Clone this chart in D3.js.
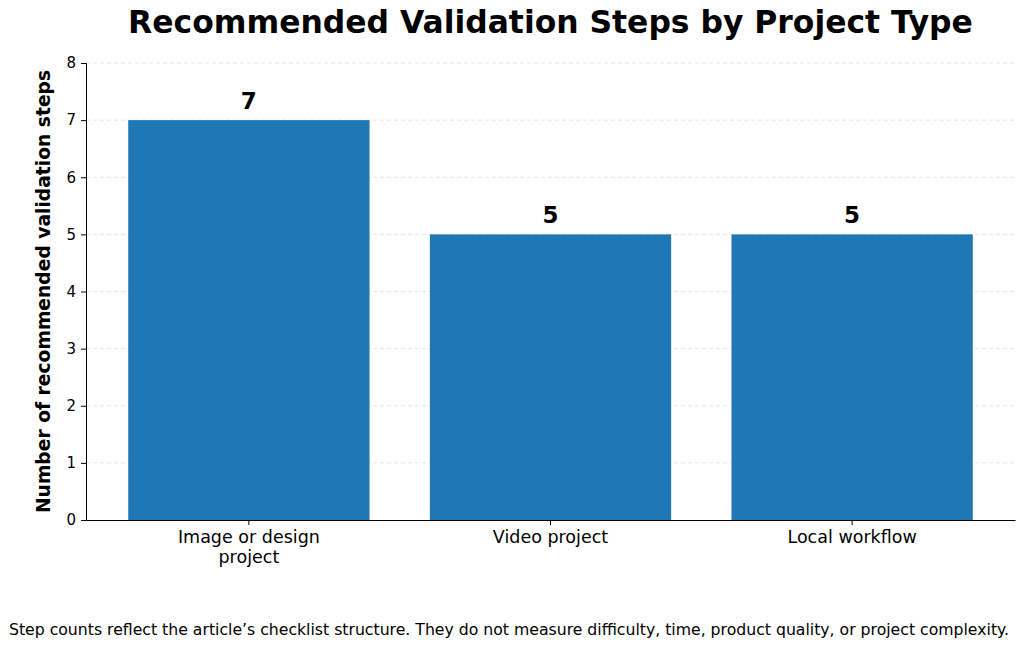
<!DOCTYPE html>
<html>
<head>
<meta charset="utf-8">
<script src="https://cdn.jsdelivr.net/npm/d3@7"></script>
<style>
  body { margin: 0; background: #fff; }
  svg { display: block; font-family: "DejaVu Sans", sans-serif; }
  svg text { font-family: "DejaVu Sans", sans-serif; }
</style>
</head>
<body>
<div id="chart"></div>
<script>
/* --- Data --- */
const categories = ["Image or design\nproject", "Video project", "Local workflow"];
const stepCounts = [7, 5, 5];
const yTicks = [0, 1, 2, 3, 4, 5, 6, 7, 8];

const titleText = "Recommended Validation Steps by Project Type";
const yLabelText = "Number of recommended validation steps";
const footText = "Step counts reflect the article\u2019s checklist structure. They do not measure difficulty, time, product quality, or project complexity.";

const width = 1024, height = 647;
const margin = { top: 63, right: 9, bottom: 127, left: 86 };
const innerW = width - margin.left - margin.right;
const innerH = height - margin.top - margin.bottom;
const barColor = "#1f77b4";

const svg = d3.select("#chart").append("svg")
    .attr("width", width)
    .attr("height", height);

const g = svg.append("g")
    .attr("transform", `translate(${margin.left},${margin.top})`);

// Scales
const x = d3.scaleBand()
    .domain(categories)
    .range([0, innerW])
    .paddingInner(0.2)
    .paddingOuter(0.14);

const y = d3.scaleLinear().domain([0, 8]).range([innerH, 0]);

// Grid lines (behind bars)
g.append("g")
    .selectAll("line")
    .data(yTicks.filter(d => d > 0))
    .join("line")
    .attr("x1", 0)
    .attr("x2", innerW)
    .attr("y1", d => y(d))
    .attr("y2", d => y(d))
    .attr("stroke", "#dddddd")
    .attr("stroke-width", 0.8)
    .attr("stroke-dasharray", "4,3");

// Bars
g.selectAll("rect.bar")
    .data(stepCounts)
    .join("rect")
    .attr("class", "bar")
    .attr("x", (d, i) => x(categories[i]))
    .attr("y", d => y(d))
    .attr("width", x.bandwidth())
    .attr("height", d => innerH - y(d))
    .attr("fill", barColor);

// Value labels
g.selectAll("text.value")
    .data(stepCounts)
    .join("text")
    .attr("class", "value")
    .attr("x", (d, i) => x(categories[i]) + x.bandwidth() / 2)
    .attr("y", d => y(d) - 11)
    .attr("text-anchor", "middle")
    .style("font-size", "23px")
    .style("font-weight", "bold")
    .text(d => d);

// Y axis
const yAxis = g.append("g")
    .call(d3.axisLeft(y).tickValues(yTicks).tickSize(5).tickPadding(5));
yAxis.attr("font-family", "DejaVu Sans").attr("font-size", 15);
yAxis.select(".domain").attr("stroke", "#000").attr("stroke-width", 1);
yAxis.selectAll("line").attr("stroke", "#000");
yAxis.selectAll("text").style("font-size", "15px").attr("fill", "#000");

// X axis
const xAxis = g.append("g")
    .attr("transform", `translate(0,${innerH})`)
    .call(d3.axisBottom(x).tickSize(5).tickSizeOuter(0).tickFormat(""));
xAxis.attr("font-family", "DejaVu Sans");
xAxis.select(".domain").attr("stroke", "#000").attr("stroke-width", 1);
xAxis.selectAll("line").attr("stroke", "#000");

// Category labels (multi-line)
xAxis.selectAll(".tick").each(function (d) {
    const lines = d.split("\n");
    const t = d3.select(this).append("text")
        .attr("y", 23)
        .attr("text-anchor", "middle")
        .attr("fill", "#000")
        .style("font-size", "17.5px");
    lines.forEach((ln, i) => {
        t.append("tspan").attr("x", 0).attr("dy", i === 0 ? 0 : "1.15em").text(ln);
    });
});

// Title
svg.append("text")
    .attr("x", margin.left + innerW / 2)
    .attr("y", 33)
    .attr("text-anchor", "middle")
    .style("font-size", "31.4px")
    .style("font-weight", "bold")
    .text(titleText);

// Y label
svg.append("text")
    .attr("transform", `translate(50,${margin.top + innerH / 2}) rotate(-90)`)
    .attr("text-anchor", "middle")
    .style("font-size", "18.7px")
    .style("font-weight", "bold")
    .text(yLabelText);

// Footnote
svg.append("text")
    .attr("x", width / 2 - 3)
    .attr("y", 635)
    .attr("text-anchor", "middle")
    .style("font-size", "15.7px")
    .text(footText);
</script>
</body>
</html>
